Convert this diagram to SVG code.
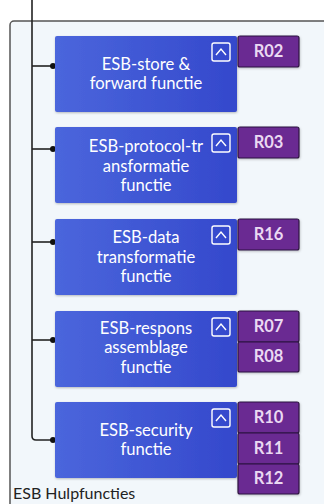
<svg xmlns="http://www.w3.org/2000/svg" width="324" height="504" viewBox="0 0 324 504">
<defs>
<linearGradient id="ng" x1="0" y1="0" x2="1" y2="0">
<stop offset="0" stop-color="#4b66dc"/>
<stop offset="1" stop-color="#3448cc"/>
</linearGradient>
<filter id="sh" x="-10%" y="-10%" width="130%" height="140%">
<feDropShadow dx="0.5" dy="1" stdDeviation="1" flood-color="#000" flood-opacity="0.25"/>
</filter>
</defs>
<style>
.node{fill:url(#ng);filter:url(#sh)}
.nt{fill:#fff;font-family:Lato,"Liberation Sans",sans-serif;font-size:16.6px;text-anchor:middle}
.tg{fill:none;stroke:#fff;stroke-width:1.4}
.bd{fill:#6a2a92;stroke:#2e1440;stroke-width:1.2;filter:url(#sh)}
.bt{fill:#ead9f2;font-family:Lato,"Liberation Sans",sans-serif;font-size:16.5px;font-weight:700;text-anchor:middle}
.cn{fill:none;stroke:#222;stroke-width:1.6}
.dot{fill:#111}
</style>
<rect x="10" y="21" width="330" height="500" rx="4" fill="#f2f7fb" stroke="#555" stroke-width="1.5"/>
<text x="13" y="499" font-family="Lato,'Liberation Sans',sans-serif" font-size="16" fill="#222">ESB Hulpfuncties</text>
<g id="connectors">
<path class="cn" d="M32 0 V436 Q32 440 36 440 H52"/>
<path class="cn" d="M32 66 H52"/>
<path class="cn" d="M32 149 H52"/>
<path class="cn" d="M32 242 H52"/>
<path class="cn" d="M32 340 H52"/>
<circle class="dot" cx="53" cy="66" r="3"/>
<circle class="dot" cx="53" cy="149" r="3"/>
<circle class="dot" cx="53" cy="242" r="3"/>
<circle class="dot" cx="53" cy="340" r="3"/>
<circle class="dot" cx="53" cy="440" r="3"/>
</g>
<g id="n1">
<rect class="node" x="55" y="36" width="182" height="76" rx="2"/>
<text class="nt" x="146" y="70">ESB-store &amp;</text>
<text class="nt" x="146" y="89">forward functie</text>
<rect class="tg" x="212" y="43" width="18" height="18" rx="2"/><polyline class="tg" points="216,55 221,49 226,55"/>
<rect class="bd" x="238" y="36" width="61" height="31" rx="2"/><text class="bt" x="268.5" y="57">R02</text>
</g>
<g id="n2">
<rect class="node" x="55" y="127" width="182" height="76" rx="2"/>
<text class="nt" x="146" y="152">ESB-protocol-tr</text>
<text class="nt" x="146" y="172">ansformatie</text>
<text class="nt" x="146" y="191">functie</text>
<rect class="tg" x="212" y="134" width="18" height="18" rx="2"/><polyline class="tg" points="216,146 221,140 226,146"/>
<rect class="bd" x="238" y="127" width="61" height="31" rx="2"/><text class="bt" x="268.5" y="148">R03</text>
</g>
<g id="n3">
<rect class="node" x="55" y="219" width="182" height="76" rx="2"/>
<text class="nt" x="146" y="243">ESB-data</text>
<text class="nt" x="146" y="263">transformatie</text>
<text class="nt" x="146" y="282">functie</text>
<rect class="tg" x="212" y="226" width="18" height="18" rx="2"/><polyline class="tg" points="216,238 221,232 226,238"/>
<rect class="bd" x="238" y="219" width="61" height="31" rx="2"/><text class="bt" x="268.5" y="240">R16</text>
</g>
<g id="n4">
<rect class="node" x="55" y="311" width="182" height="76" rx="2"/>
<text class="nt" x="146" y="334">ESB-respons</text>
<text class="nt" x="146" y="353">assemblage</text>
<text class="nt" x="146" y="373">functie</text>
<rect class="tg" x="212" y="318" width="18" height="18" rx="2"/><polyline class="tg" points="216,330 221,324 226,330"/>
<rect class="bd" x="238" y="311" width="61" height="31" rx="2"/><text class="bt" x="268.5" y="332">R07</text>
<rect class="bd" x="238" y="342" width="61" height="30" rx="2"/><text class="bt" x="268.5" y="362">R08</text>
</g>
<g id="n5">
<rect class="node" x="55" y="402" width="182" height="76" rx="2"/>
<text class="nt" x="146" y="436">ESB-security</text>
<text class="nt" x="146" y="455">functie</text>
<rect class="tg" x="212" y="409" width="18" height="18" rx="2"/><polyline class="tg" points="216,421 221,415 226,421"/>
<rect class="bd" x="238" y="402" width="61" height="31" rx="2"/><text class="bt" x="268.5" y="423">R10</text>
<rect class="bd" x="238" y="433" width="61" height="31" rx="2"/><text class="bt" x="268.5" y="454">R11</text>
<rect class="bd" x="238" y="464" width="61" height="30" rx="2"/><text class="bt" x="268.5" y="484">R12</text>
</g>
</svg>
